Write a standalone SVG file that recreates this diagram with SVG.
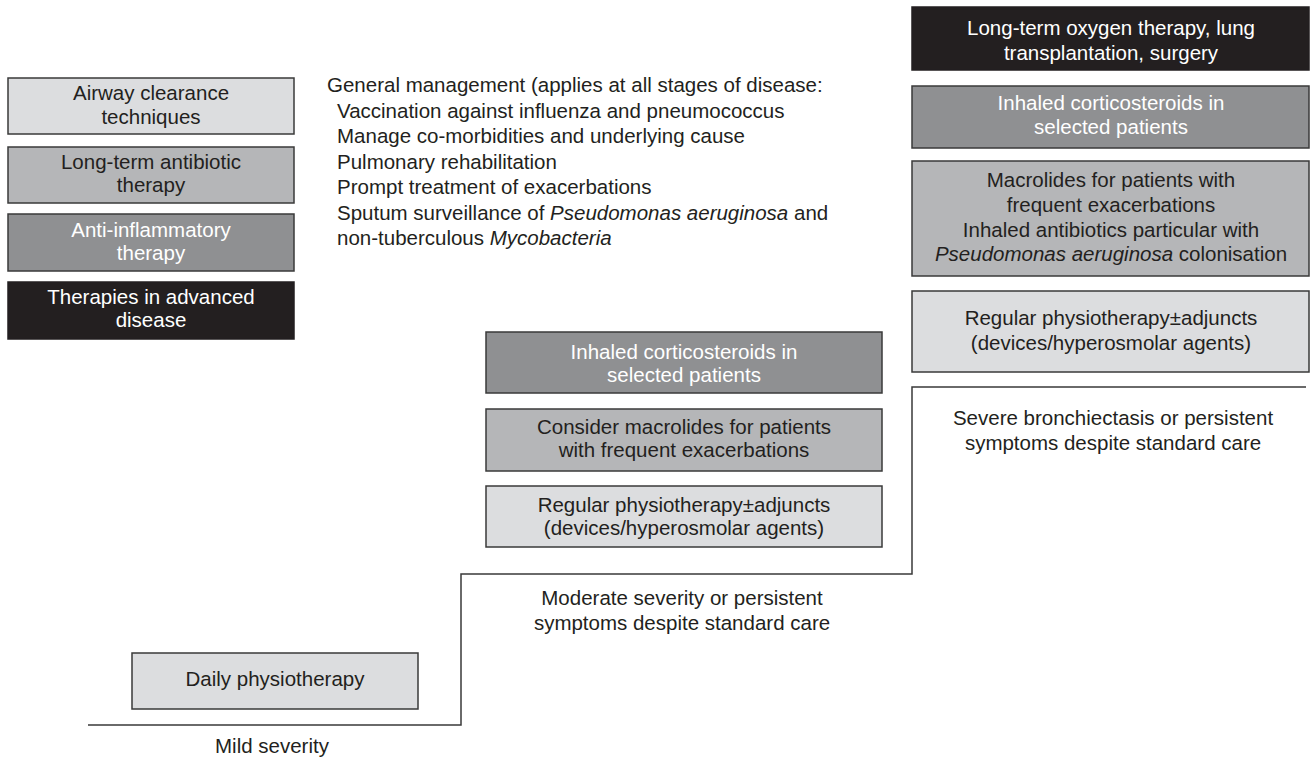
<svg xmlns="http://www.w3.org/2000/svg" width="1311" height="761" viewBox="0 0 1311 761">
<style>
text{font-family:"Liberation Sans",Arial,sans-serif;font-size:20.5px;fill:#231f20}
.c{text-anchor:middle}
.w{fill:#ffffff}
.i{font-style:italic}
.b1{fill:#dcdddf;stroke:#3a3a3a;stroke-width:1.5}
.b2{fill:#b5b6b8;stroke:#3a3a3a;stroke-width:1.5}
.b3{fill:#8f9092;stroke:#3a3a3a;stroke-width:1.5}
.b4{fill:#231f20;stroke:#231f20;stroke-width:1.5}
.ln{fill:none;stroke:#3a3a3a;stroke-width:1.5}
</style>
<g id="legend-airway"><rect class="b1" x="8" y="78" width="286" height="56"/><text class="c" x="151" y="100">Airway clearance</text><text class="c" x="151" y="124">techniques</text></g>
<g id="legend-antibiotic"><rect class="b2" x="8" y="147" width="286" height="56"/><text class="c" x="151" y="169">Long-term antibiotic</text><text class="c" x="151" y="192">therapy</text></g>
<g id="legend-antiinflammatory"><rect class="b3" x="8" y="214" width="286" height="57"/><text class="c w" x="151" y="237">Anti-inflammatory</text><text class="c w" x="151" y="260">therapy</text></g>
<g id="legend-advanced"><rect class="b4" x="8" y="282" width="286" height="57"/><text class="c w" x="151" y="304">Therapies in advanced</text><text class="c w" x="151" y="327">disease</text></g>
<g id="general">
<text x="327" y="92">General management (applies at all stages of disease:</text>
<text x="337" y="117.5">Vaccination against influenza and pneumococcus</text>
<text x="337" y="143">Manage co-morbidities and underlying cause</text>
<text x="337" y="168.5">Pulmonary rehabilitation</text>
<text x="337" y="194">Prompt treatment of exacerbations</text>
<text x="337" y="219.5">Sputum surveillance of <tspan class="i">Pseudomonas aeruginosa</tspan> and</text>
<text x="337" y="245">non-tuberculous <tspan class="i">Mycobacteria</tspan></text>
</g>
<g id="connectors"><polyline class="ln" points="88,725 461,725 461,574 912,574 912,387 1306,387"/></g>
<g id="mild-daily"><rect class="b1" x="132" y="653" width="286" height="56"/><text class="c" x="275" y="686">Daily physiotherapy</text></g>
<g id="mild-label"><text class="c" x="272" y="753">Mild severity</text></g>
<g id="mod-ics"><rect class="b3" x="486" y="332" width="396" height="61"/><text class="c w" x="684" y="359">Inhaled corticosteroids in</text><text class="c w" x="684" y="382">selected patients</text></g>
<g id="mod-macrolides"><rect class="b2" x="486" y="409" width="396" height="62"/><text class="c" x="684" y="434">Consider macrolides for patients</text><text class="c" x="684" y="457">with frequent exacerbations</text></g>
<g id="mod-physio"><rect class="b1" x="486" y="486" width="396" height="61"/><text class="c" x="684" y="512">Regular physiotherapy±adjuncts</text><text class="c" x="684" y="535">(devices/hyperosmolar agents)</text></g>
<g id="mod-label"><text class="c" x="682" y="605">Moderate severity or persistent</text><text class="c" x="682" y="630">symptoms despite standard care</text></g>
<g id="sev-advanced"><rect class="b4" x="912" y="7" width="397" height="63"/><text class="c w" x="1111" y="35">Long-term oxygen therapy, lung</text><text class="c w" x="1111" y="60">transplantation, surgery</text></g>
<g id="sev-ics"><rect class="b3" x="912" y="86" width="397" height="62"/><text class="c w" x="1111" y="110">Inhaled corticosteroids in</text><text class="c w" x="1111" y="134">selected patients</text></g>
<g id="sev-antibiotics"><rect class="b2" x="912" y="161" width="397" height="115"/><text class="c" x="1111" y="187">Macrolides for patients with</text><text class="c" x="1111" y="212">frequent exacerbations</text><text class="c" x="1111" y="236.5">Inhaled antibiotics particular with</text><text class="c" x="1111" y="261"><tspan class="i">Pseudomonas aeruginosa</tspan> colonisation</text></g>
<g id="sev-physio"><rect class="b1" x="912" y="291" width="397" height="81"/><text class="c" x="1111" y="325">Regular physiotherapy±adjuncts</text><text class="c" x="1111" y="350">(devices/hyperosmolar agents)</text></g>
<g id="sev-label"><text class="c" x="1113" y="425">Severe bronchiectasis or persistent</text><text class="c" x="1113" y="450">symptoms despite standard care</text></g>
</svg>
